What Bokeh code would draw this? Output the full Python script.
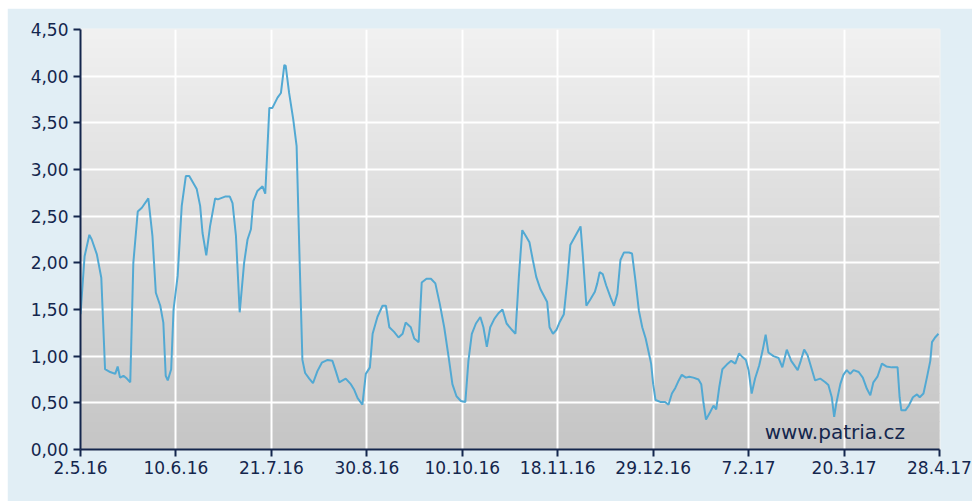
import numpy as np
from bokeh.plotting import figure
from bokeh.models import Range1d, FixedTicker, CustomJSTickFormatter, Label
from bokeh.embed import file_html
from bokeh.resources import INLINE

# trading-session index (0 = 2.5.16 ... 252 = 28.4.17)
session = [0, 1.2, 2.6, 3.3, 4.8, 6.1, 7.2, 8.7, 10.2, 10.9, 11.6, 12.6, 13.6, 14.6,
           15.5, 16.8, 18.0, 19.9, 21.1, 22.1, 23.4, 24.3, 25.0, 25.6, 26.6, 27.3,
           28.5, 29.7, 30.9, 31.9, 34.1, 35.1, 35.8, 36.9, 38.0, 39.5, 40.3, 42.4,
           43.8, 44.6, 45.6, 46.7, 48.0, 49.0, 50.0, 50.7, 51.9, 53.4, 54.2, 55.4,
           56.3, 57.8, 58.8, 59.8, 60.2, 61.2, 62.4, 63.4, 64.3, 65.1, 65.9, 67.1,
           68.2, 69.5, 70.8, 72.5, 73.9, 74.9, 75.9, 77.8, 79.3, 80.3, 81.3, 82.7,
           83.7, 84.9, 85.7, 87.1, 88.6, 89.6, 90.6, 92.0, 93.3, 94.5, 95.4, 96.9,
           97.9, 99.2, 100.1, 101.5, 102.8, 104.1, 105.4, 106.7, 108.0, 109.1, 110.3,
           111.6, 112.9, 113.8, 114.8, 116.0, 117.3, 118.2, 119.2, 120.2, 121.4,
           122.6, 123.8, 125.0, 126.6, 127.6, 128.6, 129.6, 130.6, 131.7, 132.7,
           133.7, 134.9, 135.9, 136.9, 137.6, 138.6, 139.6, 140.5, 141.8, 142.8,
           143.7, 145.2, 146.7, 147.4, 148.4, 149.6, 150.9, 151.6, 152.3, 153.2,
           154.2, 155.5, 156.5, 157.5, 158.4, 159.4, 160.9, 161.8, 162.8, 163.8,
           164.8, 165.8, 166.7, 167.4, 168.0, 168.7, 170.1, 171.5, 172.5, 173.5,
           174.5, 175.5, 176.4, 177.6, 178.6, 179.8, 181.3, 182.1, 182.8, 183.5,
           184.7, 185.7, 186.5, 187.4, 188.3, 189.6, 190.9, 192.1, 193.2, 194.2,
           195.2, 196.0, 196.9, 197.9, 199.1, 200.1, 201.0, 201.8, 203.3, 204.8,
           205.9, 207.2, 208.5, 210.4, 211.3, 212.3, 213.3, 214.2, 215.5, 217.0,
           218.5, 219.4, 220.4, 221.1, 221.7, 222.9, 223.8, 224.8, 225.8, 226.8,
           228.3, 229.5, 230.7, 231.7, 232.6, 233.8, 235.1, 236.4, 238.0, 239.7,
           240.3, 240.8, 242.0, 243.0, 244.2, 245.4, 246.2, 247.3, 248.3, 249.3,
           249.8, 250.7, 251.7]

value = [1.45, 2.07, 2.30, 2.25, 2.09, 1.84, 0.86, 0.83, 0.81, 0.89, 0.77, 0.79, 0.76, 0.72,
         2.00, 2.55, 2.59, 2.69, 2.29, 1.68, 1.54, 1.36, 0.79, 0.74, 0.86, 1.50,
         1.86, 2.61, 2.93, 2.93, 2.79, 2.61, 2.32, 2.08, 2.39, 2.69, 2.68, 2.71,
         2.71, 2.64, 2.29, 1.47, 2.00, 2.25, 2.36, 2.66, 2.77, 2.82, 2.74, 3.66,
         3.66, 3.77, 3.82, 4.12, 4.11, 3.82, 3.54, 3.25, 2.00, 0.96, 0.82, 0.76,
         0.71, 0.84, 0.93, 0.96, 0.95, 0.84, 0.72, 0.76, 0.70, 0.64, 0.55, 0.48,
         0.81, 0.88, 1.24, 1.42, 1.54, 1.54, 1.31, 1.26, 1.20, 1.24, 1.36, 1.31,
         1.19, 1.15, 1.79, 1.83, 1.83, 1.78, 1.56, 1.31, 0.99, 0.70, 0.57,
         0.52, 0.51, 0.95, 1.24, 1.35, 1.42, 1.31, 1.10, 1.31, 1.40,
         1.46, 1.50, 1.35, 1.28, 1.24, 1.85, 2.35, 2.29, 2.22, 2.03,
         1.85, 1.72, 1.65, 1.58, 1.31, 1.24, 1.28, 1.36, 1.45, 1.81,
         2.19, 2.29, 2.39, 2.06, 1.54, 1.61, 1.69, 1.78, 1.90, 1.88,
         1.76, 1.63, 1.54, 1.67, 2.03, 2.11, 2.11, 2.10, 1.81, 1.49,
         1.31, 1.19, 1.04, 0.92, 0.70, 0.53, 0.51, 0.51, 0.48, 0.60,
         0.66, 0.74, 0.80, 0.77, 0.78, 0.77, 0.75, 0.70, 0.49, 0.32,
         0.40, 0.47, 0.43, 0.67, 0.86, 0.91, 0.95, 0.92, 1.03, 0.99,
         0.96, 0.85, 0.60, 0.76, 0.90, 1.06, 1.23, 1.04, 1.00, 0.98,
         0.88, 1.07, 0.95, 0.85, 0.95, 1.07, 1.01, 0.90, 0.74, 0.76,
         0.72, 0.69, 0.56, 0.35, 0.49, 0.70, 0.80, 0.85, 0.81, 0.85,
         0.83, 0.77, 0.65, 0.58, 0.72, 0.78, 0.92, 0.89, 0.88, 0.88,
         0.56, 0.42, 0.42, 0.47, 0.56, 0.59, 0.56, 0.60, 0.77, 0.95,
         1.15, 1.20, 1.24]

tick_sessions = [0, 28, 56, 84, 112, 140, 168, 196, 224, 252]
tick_labels = ["2.5.16", "10.6.16", "21.7.16", "30.8.16", "10.10.16",
               "18.11.16", "29.12.16", "7.2.17", "20.3.17", "28.4.17"]
y_ticks = [0, 0.5, 1, 1.5, 2, 2.5, 3, 3.5, 4, 4.5]

NAVY = "#14264d"
PANEL = "#e1eef5"

p = figure(width=965, height=493, output_backend="svg", toolbar_location=None,
           x_range=Range1d(0, 252), y_range=Range1d(0, 4.5),
           min_border_left=73, min_border_right=33, min_border_top=21, min_border_bottom=52)
p.margin = (8, 0, 0, 7)
p.border_fill_color = PANEL
p.background_fill_color = "#dcdcdc"
p.outline_line_color = "#f4f4f4"
p.outline_line_width = 2

# vertical gradient background of the plot area
edges = np.linspace(0, 4.5, 46)
shades = np.linspace(198, 240, 45).astype(int)
cols = ["#%02x%02x%02x" % (s, s, s) for s in shades]
p.quad(left=0, right=252, bottom=edges[:-1], top=edges[1:], fill_color=cols,
       line_color=cols, line_width=1, level="image")

p.line(session, value, line_color="#52a9d3", line_width=2)

p.xgrid.grid_line_color = "white"
p.ygrid.grid_line_color = "white"
p.xgrid.grid_line_width = 2
p.ygrid.grid_line_width = 2

p.xaxis.ticker = FixedTicker(ticks=tick_sessions)
p.xaxis.major_label_overrides = {t: l for t, l in zip(tick_sessions, tick_labels)}
p.yaxis.ticker = FixedTicker(ticks=y_ticks)
p.yaxis.formatter = CustomJSTickFormatter(code="return tick.toFixed(2).replace('.', ',');")

for ax in (p.xaxis[0], p.yaxis[0]):
    ax.axis_line_color = NAVY
    ax.axis_line_width = 2
    ax.major_tick_line_color = NAVY
    ax.major_tick_line_width = 2
    ax.major_tick_out = 7
    ax.major_tick_in = 0
    ax.minor_tick_line_color = None
    ax.major_label_text_color = NAVY
    ax.major_label_text_font = "DejaVu Sans"
p.xaxis.major_label_standoff = 4
p.yaxis.major_label_standoff = 5
p.xaxis.major_label_text_font_size = "17px"
p.yaxis.major_label_text_font_size = "17px"

p.add_layout(Label(x=200.7, y=0.19, text="www.patria.cz", text_color=NAVY,
                   text_font="DejaVu Sans", text_font_size="20px",
                   text_baseline="alphabetic"))

open("out.html", "w").write(file_html(p, INLINE))
